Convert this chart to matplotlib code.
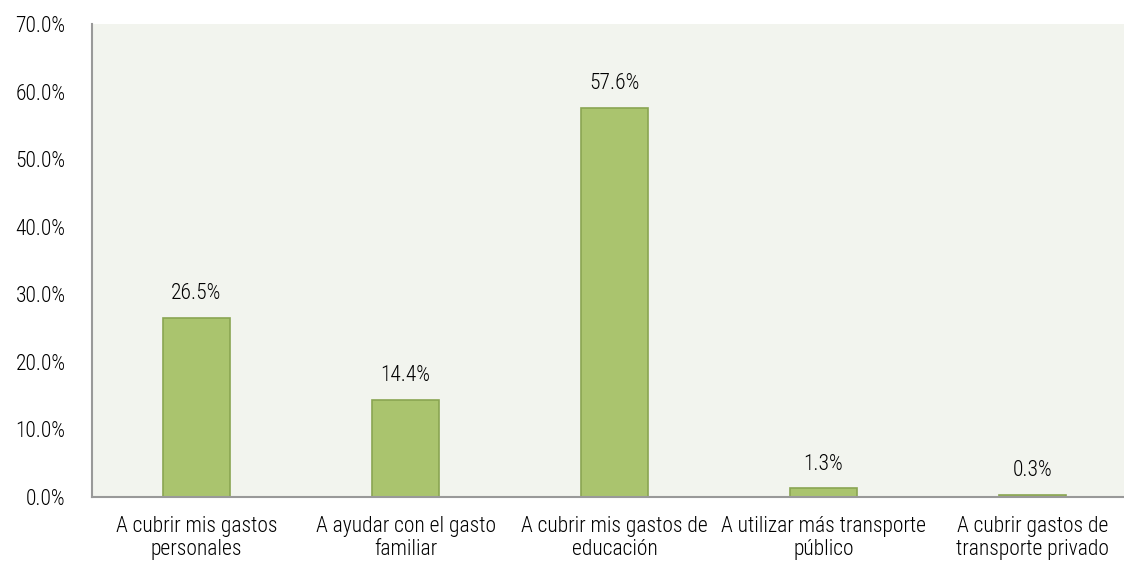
import matplotlib.pyplot as plt
from matplotlib import font_manager
from matplotlib.ticker import FuncFormatter

categories = [
    'A cubrir mis gastos\npersonales',
    'A ayudar con el gasto\nfamiliar',
    'A cubrir mis gastos de\neducación',
    'A utilizar más transporte\npúblico',
    'A cubrir gastos de\ntransporte privado',
]
values = [26.5, 14.4, 57.6, 1.3, 0.3]

# pick a narrow face if one is installed
names = {f.name for f in font_manager.fontManager.ttflist}
family = 'DejaVu Sans'
for cand in ['Liberation Sans Narrow', 'Roboto Condensed', 'Open Sans Condensed', 'Noto Sans Condensed']:
    if cand in names:
        family = cand
        break
plt.rcParams['font.family'] = [family, 'DejaVu Sans']
plt.rcParams['font.stretch'] = 'condensed'
plt.rcParams['font.weight'] = 'light'

fs = 15.5
txt = '#000000'

fig = plt.figure(figsize=(11.24, 5.69), dpi=100)
ax = fig.add_axes([92 / 1124, 1 - 497 / 569, 1 - 92 / 1124, (497 - 24) / 569])
ax.set_facecolor('#F2F4EE')

x = list(range(len(categories)))
bars = ax.bar(x, values, width=0.316, color='#AAC46E', edgecolor='#8AA552', linewidth=1.2)

for xi, v in zip(x, values):
    ax.text(xi, v + 2.0, f'{v:.1f}%', ha='center', va='bottom', fontsize=fs, color=txt)

ax.set_ylim(0, 70)
ax.set_yticks(range(0, 71, 10))
ax.yaxis.set_major_formatter(FuncFormatter(lambda v, p: f'{v:.1f}%'))
ax.set_xlim(-0.5, 4.5 - 13 / 209)
ax.set_xticks(x)
ax.set_xticklabels(categories, fontsize=fs, linespacing=1.12)
ax.tick_params(axis='y', labelsize=fs, length=0, pad=19, colors=txt)
ax.tick_params(axis='x', length=0, pad=14, colors=txt)

for s in ['top', 'right']:
    ax.spines[s].set_visible(False)
ax.spines['left'].set_color('#999999')
ax.spines['left'].set_linewidth(1.5)
ax.spines['bottom'].set_color('#999999')
ax.spines['bottom'].set_linewidth(1.5)

fig.savefig('out.png', dpi=100)
